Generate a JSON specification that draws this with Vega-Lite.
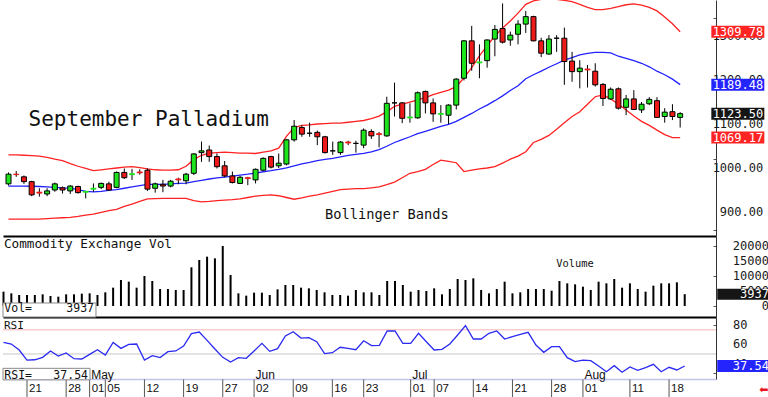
{
  "$schema": "https://vega.github.io/schema/vega-lite/v6.json",
  "padding": 0,
  "spacing": 0,
  "bounds": "flush",
  "background": "white",
  "config": {"view": {"stroke": null}, "axis": {"grid": false}},
  "datasets": {
    "d": [
      {"i":-3,"o":964,"h":990,"l":960,"c":986,"up":1030,"mid":959,"lo":884,"v":4778,"r":62.0},
      {"i":-2,"o":986,"h":993,"l":980,"c":985,"up":1030,"mid":959,"lo":884,"v":4222,"r":60.3},
      {"i":-1,"o":980,"h":983,"l":964,"c":969,"up":1029,"mid":959,"lo":884,"v":3667,"r":54.1},
      {"i":0,"o":969,"h":971,"l":936,"c":939,"up":1028,"mid":958.5,"lo":884,"v":3667,"r":43.7},
      {"i":1,"o":945,"h":954,"l":935,"c":943,"up":1027,"mid":958,"lo":884,"v":3667,"r":44.0},
      {"i":2,"o":941,"h":954,"l":936,"c":948,"up":1024,"mid":957,"lo":885,"v":3889,"r":46.5},
      {"i":3,"o":950,"h":967,"l":946,"c":964,"up":1020,"mid":956,"lo":886,"v":3333,"r":53.1},
      {"i":4,"o":955,"h":958,"l":942,"c":950,"up":1017,"mid":955,"lo":887,"v":3111,"r":47.9},
      {"i":5,"o":948,"h":961,"l":941,"c":959,"up":1010,"mid":954.5,"lo":888,"v":3889,"r":51.0},
      {"i":6,"o":958,"h":960,"l":942,"c":944,"up":1004,"mid":951,"lo":890,"v":3889,"r":45.1},
      {"i":7,"o":945,"h":948,"l":931,"c":947,"up":999,"mid":947,"lo":893,"v":4111,"r":44.8},
      {"i":8,"o":952,"h":965,"l":946,"c":954,"up":994,"mid":946,"lo":895,"v":4222,"r":49.6},
      {"i":9,"o":956,"h":967,"l":952,"c":965,"up":996,"mid":947,"lo":899,"v":3667,"r":54.4},
      {"i":10,"o":964,"h":969,"l":948,"c":950,"up":998,"mid":949,"lo":903,"v":4556,"r":48.9},
      {"i":11,"o":956,"h":992,"l":954,"c":990,"up":1000,"mid":951,"lo":906,"v":6111,"r":62.0},
      {"i":12,"o":990,"h":999,"l":975,"c":978,"up":1002,"mid":954,"lo":913,"v":8667,"r":55.8},
      {"i":13,"o":985,"h":998,"l":973,"c":987,"up":1003,"mid":957,"lo":918,"v":8111,"r":60.0},
      {"i":14,"o":991,"h":997,"l":985,"c":989,"up":1001,"mid":960,"lo":924,"v":6111,"r":60.3},
      {"i":15,"o":995,"h":999,"l":948,"c":952,"up":998,"mid":963,"lo":930,"v":10000,"r":43.7},
      {"i":16,"o":954,"h":967,"l":944,"c":964,"up":996,"mid":963,"lo":930.5,"v":8333,"r":48.2},
      {"i":17,"o":963,"h":973,"l":945,"c":959,"up":995,"mid":963,"lo":931,"v":5667,"r":46.2},
      {"i":18,"o":959,"h":973,"l":956,"c":970,"up":995,"mid":964,"lo":931,"v":5667,"r":52.4},
      {"i":19,"o":975,"h":978,"l":963,"c":973,"up":996,"mid":965,"lo":931,"v":5333,"r":53.1},
      {"i":20,"o":971,"h":989,"l":963,"c":986,"up":1004,"mid":965.5,"lo":931,"v":5333,"r":58.2},
      {"i":21,"o":988,"h":1034,"l":984,"c":1032,"up":1019,"mid":969,"lo":926,"v":12889,"r":71.0},
      {"i":22,"o":1035,"h":1060,"l":1014,"c":1039,"up":1029,"mid":972,"lo":923,"v":15333,"r":72.7},
      {"i":23,"o":1041,"h":1051,"l":1014,"c":1026,"up":1034,"mid":975,"lo":924,"v":16444,"r":64.1},
      {"i":24,"o":1026,"h":1033,"l":999,"c":1003,"up":1035,"mid":977.5,"lo":926,"v":15889,"r":55.1},
      {"i":25,"o":1005,"h":1016,"l":979,"c":982,"up":1036,"mid":979.5,"lo":927,"v":20000,"r":46.5},
      {"i":26,"o":982,"h":992,"l":965,"c":967,"up":1035,"mid":981.5,"lo":928,"v":10333,"r":41.7},
      {"i":27,"o":965,"h":982,"l":964,"c":979,"up":1034,"mid":984,"lo":930,"v":4222,"r":46.2},
      {"i":28,"o":978,"h":980,"l":961,"c":976,"up":1034,"mid":986,"lo":933,"v":3444,"r":45.5},
      {"i":29,"o":973,"h":999,"l":965,"c":997,"up":1033,"mid":988.5,"lo":936,"v":4444,"r":53.1},
      {"i":30,"o":995,"h":1024,"l":993,"c":1022,"up":1036,"mid":991.5,"lo":938,"v":4444,"r":61.0},
      {"i":31,"o":1026,"h":1028,"l":999,"c":1002,"up":1039,"mid":994,"lo":939,"v":3667,"r":52.7},
      {"i":32,"o":1005,"h":1033,"l":1000,"c":1011,"up":1045,"mid":997,"lo":937,"v":5556,"r":55.5},
      {"i":33,"o":1009,"h":1066,"l":1006,"c":1064,"up":1072,"mid":1000.5,"lo":933,"v":7000,"r":68.6},
      {"i":34,"o":1064,"h":1109,"l":1060,"c":1095,"up":1092,"mid":1005,"lo":929,"v":7000,"r":73.1},
      {"i":35,"o":1092,"h":1097,"l":1071,"c":1077,"up":1097,"mid":1009.5,"lo":932,"v":6111,"r":66.5},
      {"i":36,"o":1079,"h":1103,"l":1071,"c":1079,"up":1098,"mid":1013,"lo":936,"v":5889,"r":66.9},
      {"i":37,"o":1081,"h":1085,"l":1052,"c":1071,"up":1100,"mid":1017,"lo":939,"v":5333,"r":62.7},
      {"i":38,"o":1071,"h":1073,"l":1033,"c":1035,"up":1101,"mid":1019.5,"lo":943,"v":4556,"r":50.3},
      {"i":39,"o":1039,"h":1060,"l":1030,"c":1039,"up":1102,"mid":1022,"lo":947,"v":3667,"r":51.3},
      {"i":40,"o":1035,"h":1061,"l":1030,"c":1059,"up":1102,"mid":1025.5,"lo":951,"v":3667,"r":56.9},
      {"i":41,"o":1059,"h":1062,"l":1052,"c":1057,"up":1104,"mid":1028.5,"lo":952,"v":3444,"r":55.8},
      {"i":42,"o":1056,"h":1062,"l":1035,"c":1056,"up":1106,"mid":1031,"lo":953,"v":5333,"r":54.4},
      {"i":43,"o":1052,"h":1090,"l":1045,"c":1086,"up":1108,"mid":1033.5,"lo":953,"v":4556,"r":63.7},
      {"i":44,"o":1083,"h":1088,"l":1066,"c":1073,"up":1112,"mid":1036.5,"lo":955,"v":4556,"r":58.6},
      {"i":45,"o":1078,"h":1082,"l":1047,"c":1076,"up":1118,"mid":1042,"lo":957,"v":3667,"r":58.9},
      {"i":46,"o":1073,"h":1162,"l":1071,"c":1147,"up":1128,"mid":1049.5,"lo":962,"v":8333,"r":73.8},
      {"i":47,"o":1148,"h":1194,"l":1117,"c":1148,"up":1140,"mid":1058,"lo":968,"v":8333,"r":73.8},
      {"i":48,"o":1148,"h":1150,"l":1102,"c":1113,"up":1145,"mid":1064.5,"lo":978,"v":7000,"r":61.0},
      {"i":49,"o":1114,"h":1147,"l":1103,"c":1116,"up":1150,"mid":1071,"lo":988,"v":4778,"r":61.0},
      {"i":50,"o":1114,"h":1174,"l":1112,"c":1171,"up":1155,"mid":1078,"lo":992,"v":5333,"r":71.4},
      {"i":51,"o":1174,"h":1176,"l":1124,"c":1148,"up":1160,"mid":1083.5,"lo":997,"v":5000,"r":62.7},
      {"i":52,"o":1148,"h":1158,"l":1105,"c":1123,"up":1167,"mid":1089,"lo":1008,"v":5889,"r":54.1},
      {"i":53,"o":1122,"h":1143,"l":1103,"c":1124,"up":1172,"mid":1094.5,"lo":1018,"v":3889,"r":54.8},
      {"i":54,"o":1120,"h":1145,"l":1100,"c":1143,"up":1177,"mid":1099,"lo":1015,"v":5667,"r":60.3},
      {"i":55,"o":1143,"h":1204,"l":1133,"c":1202,"up":1185,"mid":1106,"lo":1012,"v":9000,"r":69.6},
      {"i":56,"o":1204,"h":1291,"l":1199,"c":1289,"up":1205,"mid":1115,"lo":992,"v":8667,"r":79.3},
      {"i":57,"o":1289,"h":1323,"l":1221,"c":1238,"up":1228,"mid":1124,"lo":995,"v":9222,"r":65.5},
      {"i":58,"o":1239,"h":1281,"l":1204,"c":1241,"up":1255,"mid":1134,"lo":998,"v":5333,"r":65.5},
      {"i":59,"o":1244,"h":1292,"l":1228,"c":1291,"up":1278,"mid":1143,"lo":1000,"v":4222,"r":71.4},
      {"i":60,"o":1293,"h":1325,"l":1254,"c":1315,"up":1300,"mid":1153,"lo":1003,"v":5667,"r":73.8},
      {"i":61,"o":1317,"h":1374,"l":1283,"c":1286,"up":1318,"mid":1164,"lo":1011,"v":8111,"r":65.5},
      {"i":62,"o":1291,"h":1310,"l":1278,"c":1302,"up":1334,"mid":1176,"lo":1020,"v":4222,"r":67.9},
      {"i":63,"o":1304,"h":1336,"l":1281,"c":1327,"up":1352,"mid":1187,"lo":1027,"v":4556,"r":70.3},
      {"i":64,"o":1327,"h":1357,"l":1307,"c":1344,"up":1372,"mid":1203,"lo":1037,"v":5667,"r":72.4},
      {"i":65,"o":1344,"h":1346,"l":1288,"c":1289,"up":1380,"mid":1212,"lo":1058,"v":5667,"r":59.3},
      {"i":66,"o":1289,"h":1296,"l":1252,"c":1261,"up":1383,"mid":1220,"lo":1065,"v":5667,"r":51.7},
      {"i":67,"o":1259,"h":1302,"l":1258,"c":1293,"up":1384,"mid":1229,"lo":1074,"v":5111,"r":57.5},
      {"i":68,"o":1295,"h":1302,"l":1264,"c":1295,"up":1383,"mid":1237,"lo":1088,"v":8333,"r":57.5},
      {"i":69,"o":1295,"h":1319,"l":1189,"c":1242,"up":1381,"mid":1245,"lo":1103,"v":7556,"r":46.2},
      {"i":70,"o":1243,"h":1264,"l":1196,"c":1219,"up":1378,"mid":1251,"lo":1117,"v":7222,"r":42.0},
      {"i":71,"o":1219,"h":1245,"l":1181,"c":1227,"up":1372,"mid":1257,"lo":1128,"v":6444,"r":43.7},
      {"i":72,"o":1225,"h":1234,"l":1183,"c":1223,"up":1365,"mid":1260.5,"lo":1145,"v":5333,"r":43.0},
      {"i":73,"o":1220,"h":1238,"l":1185,"c":1189,"up":1360,"mid":1263,"lo":1162,"v":8111,"r":37.5},
      {"i":74,"o":1190,"h":1193,"l":1141,"c":1158,"up":1360,"mid":1263,"lo":1166,"v":7556,"r":31.6},
      {"i":75,"o":1157,"h":1183,"l":1155,"c":1179,"up":1363,"mid":1261.5,"lo":1157,"v":9000,"r":37.9},
      {"i":76,"o":1180,"h":1183,"l":1133,"c":1136,"up":1367,"mid":1254,"lo":1145,"v":6111,"r":31.0},
      {"i":77,"o":1138,"h":1166,"l":1120,"c":1157,"up":1371,"mid":1249,"lo":1132,"v":7556,"r":36.5},
      {"i":78,"o":1157,"h":1177,"l":1132,"c":1133,"up":1373,"mid":1244,"lo":1118,"v":5667,"r":33.1},
      {"i":79,"o":1132,"h":1150,"l":1125,"c":1145,"up":1370,"mid":1238,"lo":1106,"v":4778,"r":35.8},
      {"i":80,"o":1146,"h":1161,"l":1143,"c":1156,"up":1365,"mid":1230,"lo":1097,"v":6778,"r":39.3},
      {"i":81,"o":1153,"h":1161,"l":1115,"c":1115,"up":1357,"mid":1220,"lo":1086,"v":7556,"r":31.6},
      {"i":82,"o":1117,"h":1136,"l":1103,"c":1127,"up":1343,"mid":1212,"lo":1076,"v":7556,"r":36.2},
      {"i":83,"o":1128,"h":1145,"l":1109,"c":1117,"up":1328,"mid":1202,"lo":1069,"v":7889,"r":33.4},
      {"i":84,"o":1115,"h":1127,"l":1092,"c":1123.5,"up":1309.78,"mid":1189.48,"lo":1069.17,"v":3937,"r":37.54}
    ],
    "months": [
      {"i": 8, "m": "May"},
      {"i": 29, "m": "Jun"},
      {"i": 49, "m": "Jul"},
      {"i": 71, "m": "Aug"}
    ],
    "dates": [
      {"i": 0, "t": "21"}, {"i": 5, "t": "28"}, {"i": 8, "t": "01"}, {"i": 10, "t": "05"},
      {"i": 15, "t": "12"}, {"i": 20, "t": "19"}, {"i": 25, "t": "27"}, {"i": 29, "t": "02"},
      {"i": 34, "t": "09"}, {"i": 39, "t": "16"}, {"i": 43, "t": "23"}, {"i": 49, "t": "01"},
      {"i": 52, "t": "07"}, {"i": 57, "t": "14"}, {"i": 62, "t": "21"}, {"i": 67, "t": "28"},
      {"i": 71, "t": "01"}, {"i": 77, "t": "11"}, {"i": 82, "t": "18"}
    ],
    "scalelabels": [
      {"k": "p", "val": 900}, {"k": "p", "val": 1000}, {"k": "p", "val": 1100}, {"k": "p", "val": 1200}, {"k": "p", "val": 1300},
      {"k": "v", "val": 0}, {"k": "v", "val": 5000}, {"k": "v", "val": 10000}, {"k": "v", "val": 15000}, {"k": "v", "val": 20000},
      {"k": "r", "val": 40}, {"k": "r", "val": 60}, {"k": "r", "val": 80}
    ],
    "notes": [
      {"k": "title", "t": "September Palladium"},
      {"k": "bb", "t": "Bollinger Bands"},
      {"k": "cev", "t": "Commodity Exchange Vol"},
      {"k": "volume", "t": "Volume"},
      {"k": "vol", "t": "Vol="},
      {"k": "rsi", "t": "RSI"},
      {"k": "rsieq", "t": "RSI="},
      {"k": "arrow", "t": "⬅"}
    ],
    "levels": [
      {"k": "high", "r": 75},
      {"k": "mid", "r": 50}
    ]
  },
  "vconcat": [
    {
      "width": 713,
      "height": 236,
      "data": {"name": "d"},
      "layer": [
        {
          "mark": {"type": "line", "color": "#ff2222", "strokeWidth": 1.3, "clip": true},
          "encoding": {
            "x": {"field": "i", "type": "quantitative", "title": null,
              "scale": {"domain": [-3.065, 87.995], "nice": false, "zero": false},
              "axis": {"orient": "bottom", "labels": false, "ticks": false, "domainColor": "#000000", "domainWidth": 2}},
            "y": {"field": "up", "type": "quantitative", "title": null,
              "scale": {"domain": [845.5, 1381.8], "nice": false, "zero": false},
              "axis": {"orient": "right", "labels": false,
                "values": [860,880,900,920,940,960,980,1000,1020,1040,1060,1080,1100,1120,1140,1160,1180,1200,1220,1240,1260,1280,1300,1320,1340,1360,1380],
                "tickSize": -3, "tickColor": "#555555", "domainColor": "#333333"}}
          }
        },
        {
          "mark": {"type": "line", "color": "#ff2222", "strokeWidth": 1.3, "clip": true},
          "encoding": {"x": {"field": "i", "type": "quantitative"}, "y": {"field": "lo", "type": "quantitative", "title": null}}
        },
        {
          "mark": {"type": "line", "color": "#2222ff", "strokeWidth": 1.3, "clip": true},
          "encoding": {"x": {"field": "i", "type": "quantitative"}, "y": {"field": "mid", "type": "quantitative", "title": null}}
        },
        {
          "mark": {"type": "rule", "color": "#000000", "strokeWidth": 1, "clip": true},
          "encoding": {"x": {"field": "i", "type": "quantitative"}, "y": {"field": "l", "type": "quantitative", "title": null}, "y2": {"field": "h"}}
        },
        {
          "mark": {"type": "bar", "width": 5, "strokeWidth": 1, "clip": true},
          "encoding": {
            "x": {"field": "i", "type": "quantitative"},
            "y": {"field": "o", "type": "quantitative", "title": null},
            "y2": {"field": "c"},
            "fill": {"condition": {"test": "datum.c >= datum.o", "value": "#1ee41e"}, "value": "#ee1a1a"},
            "stroke": {"condition": [
              {"test": "abs(datum.c - datum.o) > 0 && abs(datum.c - datum.o) < 3 && datum.c > datum.o", "value": "#1ee41e"},
              {"test": "abs(datum.c - datum.o) > 0 && abs(datum.c - datum.o) < 3", "value": "#ee1a1a"}
            ], "value": "#000000"}
          }
        },
        {
          "data": {"name": "notes"},
          "transform": [{"filter": "datum.k === 'title'"}],
          "mark": {"type": "text", "align": "left", "baseline": "alphabetic", "font": "DejaVu Sans Mono", "fontSize": 21, "color": "#111111"},
          "encoding": {"x": {"datum": -0.4}, "y": {"datum": 1095.5}, "text": {"field": "t"}}
        },
        {
          "data": {"name": "notes"},
          "transform": [{"filter": "datum.k === 'bb'"}],
          "mark": {"type": "text", "align": "left", "baseline": "alphabetic", "font": "DejaVu Sans Mono", "fontSize": 13.7, "color": "#111111"},
          "encoding": {"x": {"datum": 38.0}, "y": {"datum": 884.1}, "text": {"field": "t"}}
        },
        {
          "data": {"name": "scalelabels"},
          "transform": [{"filter": "datum.k === 'p'"}],
          "mark": {"type": "text", "align": "right", "baseline": "middle", "font": "DejaVu Sans Mono", "fontSize": 12, "color": "#1a1a1a", "clip": false},
          "encoding": {"x": {"datum": 94.76}, "y": {"field": "val", "type": "quantitative", "title": null}, "text": {"field": "val", "type": "quantitative", "format": ".2f"}}
        },
        {
          "transform": [{"filter": "datum.i === 84"}, {"fold": ["up", "mid", "c", "lo"], "as": ["s", "val"]}],
          "mark": {"type": "tick", "orient": "horizontal", "size": 53, "thickness": 12, "opacity": 1, "clip": false},
          "encoding": {
            "x": {"datum": 91.47},
            "y": {"field": "val", "type": "quantitative", "title": null},
            "color": {"field": "s", "type": "nominal", "legend": null,
              "scale": {"domain": ["up", "mid", "c", "lo"], "range": ["#ff2424", "#2424ff", "#151515", "#ff2424"]}}
          }
        },
        {
          "transform": [{"filter": "datum.i === 84"}, {"fold": ["up", "mid", "c", "lo"], "as": ["s", "val"]}],
          "mark": {"type": "text", "align": "right", "baseline": "middle", "font": "DejaVu Sans Mono", "fontSize": 12, "color": "#ffffff", "clip": false},
          "encoding": {
            "x": {"datum": 94.76},
            "y": {"field": "val", "type": "quantitative", "title": null},
            "text": {"field": "val", "type": "quantitative", "format": ".2f"}
          }
        }
      ]
    },
    {
      "width": 713,
      "height": 81,
      "data": {"name": "d"},
      "layer": [
        {
          "mark": {"type": "rule", "color": "#000000", "strokeWidth": 2},
          "encoding": {
            "x": {"field": "i", "type": "quantitative", "title": null,
              "scale": {"domain": [-3.065, 87.995], "nice": false, "zero": false},
              "axis": {"orient": "bottom", "labels": false, "ticks": false, "domainColor": "#000000", "domainWidth": 2}},
            "y": {"field": "v", "type": "quantitative", "title": null,
              "scale": {"domain": [-3667, 23333], "nice": false, "zero": false},
              "axis": {"orient": "right", "labels": false, "values": [0, 5000, 10000, 15000, 20000],
                "tickSize": -3, "tickColor": "#555555", "domainColor": "#333333"}},
            "y2": {"datum": 0}
          }
        },
        {
          "data": {"name": "notes"},
          "transform": [{"filter": "datum.k === 'vol'"}],
          "mark": {"type": "rect", "fill": "#ffffff", "stroke": "#8a8a8a", "strokeWidth": 1, "clip": false},
          "encoding": {"x": {"datum": -3.065}, "x2": {"datum": 8.81}, "y": {"datum": 1000}, "y2": {"datum": -3667}}
        },
        {
          "data": {"name": "notes"},
          "transform": [{"filter": "datum.k === 'vol'"}],
          "mark": {"type": "text", "align": "left", "baseline": "alphabetic", "font": "DejaVu Sans Mono", "fontSize": 11.5, "color": "#111111"},
          "encoding": {"x": {"datum": -2.9}, "y": {"datum": -1900}, "text": {"field": "t"}}
        },
        {
          "transform": [{"filter": "datum.i === 84"}],
          "mark": {"type": "text", "align": "right", "baseline": "alphabetic", "font": "DejaVu Sans Mono", "fontSize": 11.5, "color": "#111111"},
          "encoding": {"x": {"datum": 8.56}, "y": {"datum": -1900}, "text": {"field": "v", "type": "quantitative", "format": "d"}}
        },
        {
          "data": {"name": "notes"},
          "transform": [{"filter": "datum.k === 'cev'"}],
          "mark": {"type": "text", "align": "left", "baseline": "alphabetic", "font": "DejaVu Sans Mono", "fontSize": 12.7, "color": "#111111"},
          "encoding": {"x": {"datum": -2.95}, "y": {"datum": 19233}, "text": {"field": "t"}}
        },
        {
          "data": {"name": "notes"},
          "transform": [{"filter": "datum.k === 'volume'"}],
          "mark": {"type": "text", "align": "left", "baseline": "alphabetic", "font": "DejaVu Sans Mono", "fontSize": 10.4, "color": "#111111"},
          "encoding": {"x": {"datum": 67.6}, "y": {"datum": 12900}, "text": {"field": "t"}}
        },
        {
          "data": {"name": "scalelabels"},
          "transform": [{"filter": "datum.k === 'v'"}],
          "mark": {"type": "text", "align": "right", "baseline": "middle", "font": "DejaVu Sans Mono", "fontSize": 12, "color": "#1a1a1a", "clip": false},
          "encoding": {"x": {"datum": 94.76}, "y": {"field": "val", "type": "quantitative", "title": null}, "text": {"field": "val", "type": "quantitative", "format": "d"}}
        },
        {
          "transform": [{"filter": "datum.i === 84"}],
          "mark": {"type": "tick", "orient": "horizontal", "size": 54, "thickness": 11, "opacity": 1, "color": "#151515", "clip": false},
          "encoding": {"x": {"datum": 91.6}, "y": {"field": "v", "type": "quantitative", "title": null}}
        },
        {
          "transform": [{"filter": "datum.i === 84"}],
          "mark": {"type": "text", "align": "right", "baseline": "middle", "font": "DejaVu Sans Mono", "fontSize": 12, "color": "#ffffff", "clip": false},
          "encoding": {"x": {"datum": 94.76}, "y": {"field": "v", "type": "quantitative", "title": null}, "text": {"field": "v", "type": "quantitative", "format": "d"}}
        }
      ]
    },
    {
      "width": 713,
      "height": 62,
      "data": {"name": "d"},
      "layer": [
        {
          "data": {"name": "levels"},
          "transform": [{"filter": "datum.k === 'high'"}],
          "mark": {"type": "rule", "color": "#f4b4b4", "strokeWidth": 1},
          "encoding": {
            "y": {"field": "r", "type": "quantitative", "title": null,
              "scale": {"domain": [24.05, 88.3], "nice": false, "zero": false},
              "axis": {"orient": "right", "labels": false, "values": [30, 40, 50, 60, 70, 80],
                "tickSize": -3, "tickColor": "#555555", "domainColor": "#333333"}}
          }
        },
        {
          "data": {"name": "levels"},
          "transform": [{"filter": "datum.k === 'mid'"}],
          "mark": {"type": "rule", "color": "#c6c6c6", "strokeWidth": 1},
          "encoding": {"y": {"field": "r", "type": "quantitative", "title": null}}
        },
        {
          "mark": {"type": "line", "color": "#2a2af0", "strokeWidth": 1.3},
          "encoding": {
            "x": {"field": "i", "type": "quantitative", "title": null,
              "scale": {"domain": [-3.065, 87.995], "nice": false, "zero": false},
              "axis": {"orient": "bottom", "labels": false, "ticks": false, "domainColor": "#c4c4ee", "domainWidth": 1.5}},
            "y": {"field": "r", "type": "quantitative", "title": null}
          }
        },
        {
          "data": {"name": "dates"},
          "mark": {"type": "rule", "color": "#555555", "strokeWidth": 1, "clip": false},
          "encoding": {"x": {"field": "i", "type": "quantitative"}, "y": {"datum": 23.6}, "y2": {"datum": 5.4}}
        },
        {
          "data": {"name": "dates"},
          "mark": {"type": "text", "align": "left", "baseline": "middle", "dx": 2, "font": "Liberation Sans", "fontSize": 11.5, "color": "#111111", "clip": false},
          "encoding": {"x": {"field": "i", "type": "quantitative"}, "y": {"datum": 13.7}, "text": {"field": "t"}}
        },
        {
          "data": {"name": "notes"},
          "transform": [{"filter": "datum.k === 'rsi'"}],
          "mark": {"type": "text", "align": "left", "baseline": "alphabetic", "font": "DejaVu Sans Mono", "fontSize": 11, "color": "#111111"},
          "encoding": {"x": {"datum": -2.95}, "y": {"datum": 75.9}, "text": {"field": "t"}}
        },
        {
          "data": {"name": "notes"},
          "transform": [{"filter": "datum.k === 'rsieq'"}],
          "mark": {"type": "rect", "fill": "#ffffff", "stroke": "#8a8a8a", "strokeWidth": 1, "clip": false},
          "encoding": {"x": {"datum": -3.065}, "x2": {"datum": 8.05}, "y": {"datum": 35.1}, "y2": {"datum": 23.2}}
        },
        {
          "data": {"name": "notes"},
          "transform": [{"filter": "datum.k === 'rsieq'"}],
          "mark": {"type": "text", "align": "left", "baseline": "alphabetic", "font": "DejaVu Sans Mono", "fontSize": 11.5, "color": "#111111", "clip": false},
          "encoding": {"x": {"datum": -2.9}, "y": {"datum": 24.5}, "text": {"field": "t"}}
        },
        {
          "transform": [{"filter": "datum.i === 84"}],
          "mark": {"type": "text", "align": "right", "baseline": "alphabetic", "font": "DejaVu Sans Mono", "fontSize": 11.5, "color": "#111111", "clip": false},
          "encoding": {"x": {"datum": 7.79}, "y": {"datum": 24.5}, "text": {"field": "r", "type": "quantitative", "format": ".2f"}}
        },
        {
          "data": {"name": "months"},
          "mark": {"type": "text", "align": "left", "baseline": "alphabetic", "dx": 1.5, "font": "Liberation Sans", "fontSize": 12, "color": "#111111", "clip": false},
          "encoding": {"x": {"field": "i", "type": "quantitative"}, "y": {"datum": 23.7}, "text": {"field": "m"}}
        },
        {
          "data": {"name": "scalelabels"},
          "transform": [{"filter": "datum.k === 'r'"}],
          "mark": {"type": "text", "align": "left", "baseline": "middle", "font": "DejaVu Sans Mono", "fontSize": 12, "color": "#1a1a1a", "clip": false},
          "encoding": {"x": {"datum": 90.16}, "y": {"field": "val", "type": "quantitative", "title": null}, "text": {"field": "val", "type": "quantitative", "format": "d"}}
        },
        {
          "transform": [{"filter": "datum.i === 84"}],
          "mark": {"type": "tick", "orient": "horizontal", "size": 54, "thickness": 12, "opacity": 1, "color": "#2424ff", "clip": false},
          "encoding": {"x": {"datum": 91.6}, "y": {"field": "r", "type": "quantitative", "title": null}}
        },
        {
          "transform": [{"filter": "datum.i === 84"}],
          "mark": {"type": "text", "align": "right", "baseline": "middle", "font": "DejaVu Sans Mono", "fontSize": 12, "color": "#ffffff", "clip": false},
          "encoding": {"x": {"datum": 94.76}, "y": {"field": "r", "type": "quantitative", "title": null}, "text": {"field": "r", "type": "quantitative", "format": ".2f"}}
        },
        {
          "data": {"name": "notes"},
          "transform": [{"filter": "datum.k === 'arrow'"}],
          "mark": {"type": "text", "align": "center", "baseline": "middle", "font": "DejaVu Sans", "fontSize": 11, "color": "#e8141e", "clip": false},
          "encoding": {"x": {"datum": 94.1}, "y": {"datum": 12.9}, "text": {"field": "t"}}
        }
      ]
    }
  ]
}
